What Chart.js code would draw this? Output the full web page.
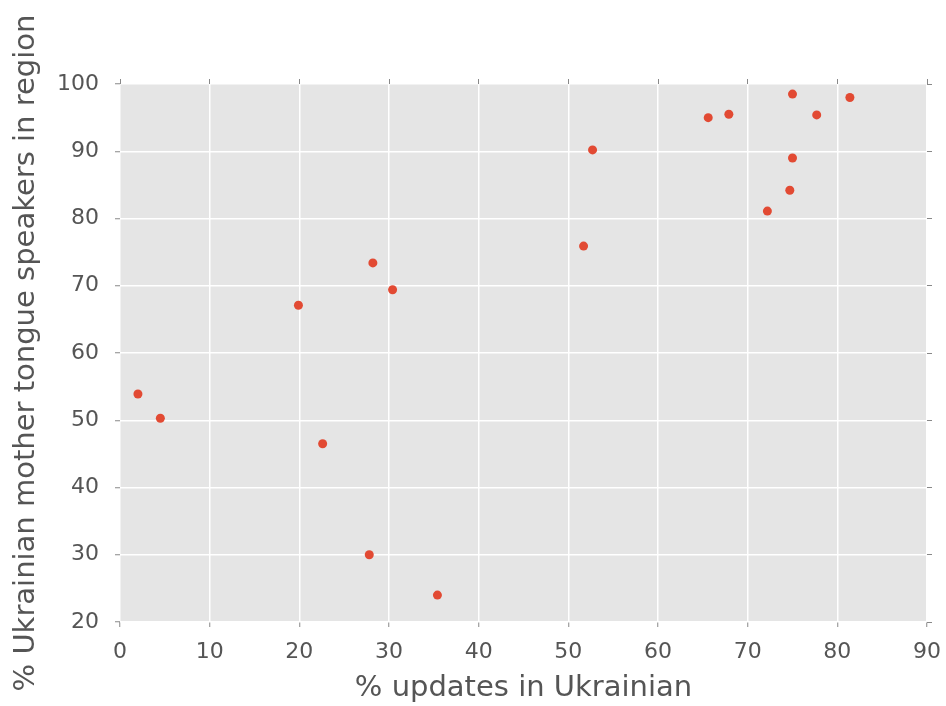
<!DOCTYPE html>
<html>
<head>
<meta charset="utf-8">
<script src="https://cdn.jsdelivr.net/npm/chart.js@4/dist/chart.umd.min.js"></script>
<style>
  html, body { margin: 0; padding: 0; background: #fff; }
  #wrap { width: 946px; height: 706px; }
</style>
</head>
<body>
<div id="wrap"><canvas id="grafico" width="946" height="706"></canvas></div>
<script>
// ---- dados ----
const pctUpdates = [2.0, 4.5, 19.9, 22.6, 27.8, 28.2, 30.4, 35.4, 51.7, 52.7,
                    65.6, 67.9, 72.2, 74.7, 75.0, 75.0, 77.7, 81.4];
const pctSpeakers = [53.9, 50.3, 67.1, 46.5, 30.0, 73.4, 69.4, 24.0, 75.9, 90.2,
                     95.0, 95.5, 81.1, 84.2, 89.0, 98.5, 95.4, 98.0];
const xTicks = [0, 10, 20, 30, 40, 50, 60, 70, 80, 90];
const yTicks = [20, 30, 40, 50, 60, 70, 80, 90, 100];

const TEXTO = '#555555';
const FONTE = 'DejaVu Sans';

// fundo cinza da área do gráfico
const fundoArea = {
    id: 'fundoArea',
    beforeDraw(chart) {
        const { ctx, chartArea: a } = chart;
        ctx.save();
        ctx.fillStyle = '#E5E5E5';
        ctx.fillRect(a.left, a.top, a.right - a.left, a.bottom - a.top);
        ctx.restore();
    }
};

// tamanho fixo do eixo, sem o recuo automático dos rótulos das pontas
const fixar = (prop, v) => scale => {
    scale[prop] = v;
    scale.paddingLeft = scale.paddingRight = 0;
    scale.paddingTop = scale.paddingBottom = 0;
};

const eixoSecundario = (pos, min, max, ticks, prop, tam) => ({
    type: 'linear', position: pos, min, max,
    afterBuildTicks: s => { s.ticks = ticks.map(v => ({ value: v })); },
    afterFit: fixar(prop, tam),
    border: { display: false },
    grid: { drawOnChartArea: false, drawTicks: true, tickLength: 5, tickColor: '#888', tickWidth: 1 },
    ticks: { display: false }
});

new Chart(document.getElementById('grafico').getContext('2d'), {
    type: 'scatter',
    data: {
        datasets: [{
            data: pctUpdates.map((x, i) => ({ x, y: pctSpeakers[i] })),
            backgroundColor: '#E24A33',
            borderColor: '#E24A33',
            borderWidth: 0,
            pointRadius: 4.5
        }]
    },
    options: {
        responsive: false,
        animation: false,
        layout: { padding: 0 },
        plugins: { legend: { display: false }, tooltip: { enabled: false } },
        scales: {
            x: {
                type: 'linear', position: 'bottom', min: 0, max: 90,
                afterBuildTicks: s => { s.ticks = xTicks.map(v => ({ value: v })); },
                afterFit: fixar('height', 84),
                border: { display: false },
                grid: { color: '#FFFFFF', lineWidth: 1.5, tickLength: 5, tickColor: '#888', tickWidth: 1 },
                ticks: { color: TEXTO, font: { family: FONTE, size: 22 }, padding: 12, maxRotation: 0 },
                title: { display: true, text: '% updates in Ukrainian', color: TEXTO,
                         font: { family: FONTE, size: 29 }, padding: { top: 0, bottom: 0 } }
            },
            y: {
                type: 'linear', position: 'left', min: 20, max: 100,
                afterBuildTicks: s => { s.ticks = yTicks.map(v => ({ value: v })); },
                afterFit: fixar('width', 120),
                border: { display: false },
                grid: { color: '#FFFFFF', lineWidth: 1.5, tickLength: 5, tickColor: '#888', tickWidth: 1 },
                ticks: { color: TEXTO, font: { family: FONTE, size: 22 }, padding: 16 },
                title: { display: true, text: '% Ukrainian mother tongue speakers in region', color: TEXTO,
                         font: { family: FONTE, size: 29 }, padding: { top: 9, bottom: 0 } }
            },
            xTopo: eixoSecundario('top', 0, 90, xTicks, 'height', 84),
            yDir: eixoSecundario('right', 20, 100, yTicks, 'width', 19)
        }
    },
    plugins: [fundoArea]
});
</script>
</body>
</html>
